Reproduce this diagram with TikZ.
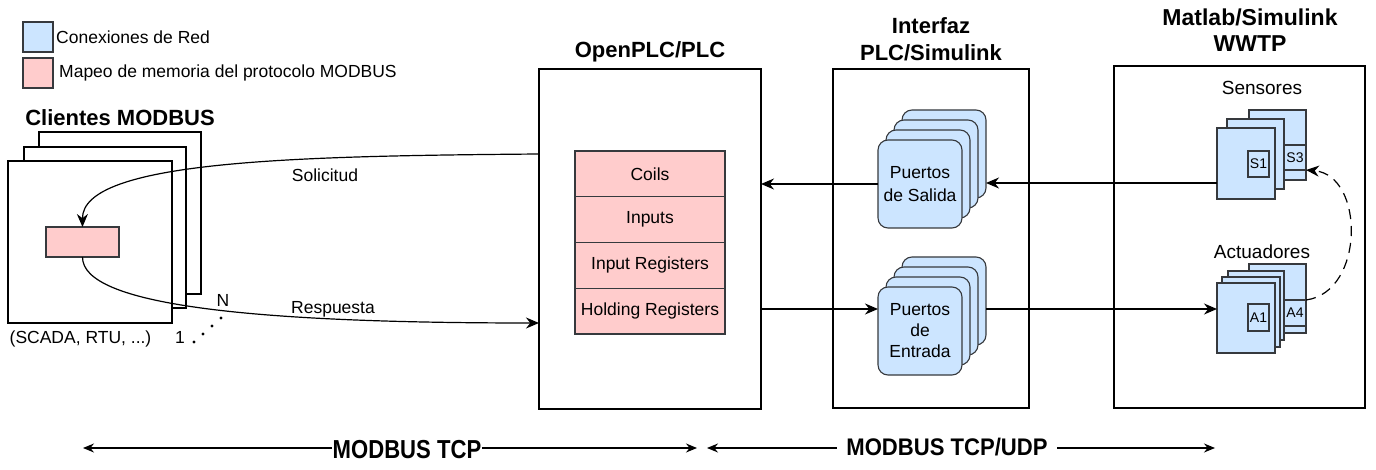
\documentclass[tikz,border=0pt]{standalone}
\usepackage{fontspec}
\setmainfont{Liberation Sans}
\newfontfamily\condA[FakeStretch=0.85]{Liberation Sans Bold}
\newfontfamily\condB[FakeStretch=0.92]{Liberation Sans Bold}
\usetikzlibrary{calc,arrows.meta,positioning}
\definecolor{blu}{HTML}{CCE5FF}
\definecolor{pnk}{HTML}{FFCCCC}
\definecolor{edg}{HTML}{36393D}
\begin{document}
\begin{tikzpicture}[x=1pt,y=-1pt,
  frame/.style={draw=black, line width=1.3pt, fill=white, rectangle, inner sep=0pt, outer sep=0pt, anchor=north west},
  blubox/.style={draw=edg, line width=1.1pt, fill=blu, rectangle, inner sep=0pt, outer sep=0pt, anchor=north west},
  pnkbox/.style={draw=edg, line width=1.1pt, fill=pnk, rectangle, inner sep=0pt, outer sep=0pt, anchor=north west},
  port/.style={blubox, rounded corners=10pt, minimum width=84pt, minimum height=88pt, align=center},
  reg/.style={pnkbox, minimum width=150pt, minimum height=45.75pt, font=\fontsize{17.5}{21}\selectfont},
  lbl/.style={font=\fontsize{17.5}{21}\selectfont, inner sep=0pt},
  sml/.style={font=\fontsize{14}{16}\selectfont, inner sep=0pt},
  ttl/.style={font=\bfseries\fontsize{22}{27}\selectfont, align=center, inner sep=0pt},
  arr/.style={line width=1.2pt, -{Stealth[length=13pt,width=11pt]}},
  darr/.style={line width=1.3pt, {Stealth[length=11pt,width=9pt]}-{Stealth[length=11pt,width=9pt]}}
]
\useasboundingbox (0,0) rectangle (1376,470);

% legend
\node[blubox, minimum width=30pt, minimum height=30pt] (lg1) at (23,22) {};
\node[lbl, anchor=west] (lg1t) at (56,37) {Conexiones de Red};
\node[pnkbox, minimum width=30pt, minimum height=30pt] (lg2) at (23,58) {};
\node[lbl, anchor=west] (lg2t) at (59,73) {Mapeo de memoria del protocolo MODBUS};

% clients
\node[ttl] (clt) at (120,118) {Clientes MODBUS};
\node[frame, minimum width=162pt, minimum height=162pt] (c3) at (39,132) {};
\node[frame, minimum width=162pt, minimum height=161pt] (c2) at (24,147) {};
\node[frame, minimum width=164pt, minimum height=162pt] (c1) at (8,161) {};
\node[pnkbox, minimum width=73pt, minimum height=30pt] (mem) at (46,227) {};
\node[lbl] (scada) at (80.5,339) {(SCADA, RTU, ...)};
\node[lbl] (nn) at (223,300) {N};
\node[lbl] (one) at (180,337) {1};
\fill (194,342) circle (1.6pt);
\fill (203,334) circle (1.6pt);
\fill (212,326) circle (1.6pt);
\fill (221,318) circle (1.6pt);

% PLC
\node[ttl] (plct) at (650,52) {OpenPLC/PLC};
\node[frame, minimum width=222pt, minimum height=340pt] (plc) at (539,69) {};
\node[reg] (coils) at (575,151) {Coils};
\node[reg, below=0pt of coils] (inputs) {Inputs};
\node[reg, below=0pt of inputs] (ireg) {Input Registers};
\node[reg, below=0pt of ireg] (hreg) {Holding Registers};

% Interface
\node[ttl] (ifzt) at (931,39) {Interfaz\\PLC/Simulink};
\node[frame, minimum width=196pt, minimum height=339pt] (ifz) at (833,69) {};
\node[port] (sal4) at (902,110) {};
\node[port] (sal3) at (894,120) {};
\node[port] (sal2) at (886,130) {};
\node[port, font=\fontsize{17.5}{23}\selectfont] (sal1) at (878,140) {Puertos\\de Salida};
\node[port] (ent4) at (902,257) {};
\node[port] (ent3) at (894,267) {};
\node[port] (ent2) at (886,277) {};
\node[port, font=\fontsize{17.5}{21}\selectfont] (ent1) at (878,287) {Puertos\\de\\Entrada};

% Matlab
\node[ttl, font=\bfseries\fontsize{23}{26.5}\selectfont] (matt) at (1250,30) {Matlab/Simulink\\WWTP};
\node[frame, minimum width=251pt, minimum height=342pt] (mat) at (1114,66) {};
\node[lbl, font=\fontsize{19}{22}\selectfont] (sens) at (1262,88) {Sensores};
\node[lbl, font=\fontsize{19}{22}\selectfont] (acts) at (1262,252) {Actuadores};

\node[blubox, minimum width=57pt, minimum height=70pt] (sen3) at (1249,110) {};
\node[blubox, minimum width=36pt, minimum height=25pt] (s3) at (1270,145) {};
\node[sml] (s3t) at (1295,158) {S3};
\node[blubox, minimum width=57pt, minimum height=70pt] (sen2) at (1227,119) {};
\node[blubox, minimum width=58pt, minimum height=71pt] (sen1) at (1217,128) {};
\node[blubox, minimum width=21pt, minimum height=26pt, font=\fontsize{14}{16}\selectfont] (s1) at (1248,151) {S1};

\node[blubox, minimum width=57pt, minimum height=69pt] (act4) at (1249,264) {};
\node[blubox, minimum width=36pt, minimum height=26pt] (a4) at (1270,300) {};
\node[sml] (a4t) at (1295,313) {A4};
\node[blubox, minimum width=56pt, minimum height=69pt] (act3) at (1228,271) {};
\node[blubox, minimum width=58pt, minimum height=70pt] (act2) at (1222,277) {};
\node[blubox, minimum width=58pt, minimum height=70pt] (act1) at (1217,283) {};
\node[blubox, minimum width=21pt, minimum height=27pt, font=\fontsize{14}{16}\selectfont] (a1) at (1248,304) {A1};

% connectors
\coordinate (sq) at ($(plc.north west)+(0,85)$);
\draw[arr] (sq) .. controls (300,156) and (82,160) .. (mem.north);
\coordinate (rp) at ($(plc.north west)+(0,254)$);
\draw[arr] (mem.south) .. controls (82,305) and (250,323) .. (rp);
\node[lbl] (solt) at (325,175) {Solicitud};
\node[lbl] (respt) at (333,309) {Respuesta};

\coordinate (sin) at ($(sen1.north west)+(0,55)$);
\draw[arr] (sin) -- (sal4.east |- sin);
\draw[arr] (sal1.west) -- (plc.east |- sal1.west);
\coordinate (ein) at ($(ent1.north west)+(0,22)$);
\draw[arr] (plc.east |- ein) -- (ein);
\coordinate (ain) at ($(act1.north west)+(0,26)$);
\draw[arr] (ent4.east |- ain) -- (ain);
\draw[arr, dash pattern=on 10pt off 7pt] (a4.north east) .. controls (1365,292) and (1365,175) .. (s3.south east);

% bottom
\coordinate (b1l) at (83,448);
\coordinate (b1r) at (697,448);
\coordinate (b2l) at (707,448);
\coordinate (b2r) at (1215,448);
\draw[darr] (b1l) -- (b1r);
\draw[darr] (b2l) -- (b2r);
\node[font=\condA\fontsize{26}{30}\selectfont, fill=white, inner xsep=1pt, inner ysep=2pt] (tcp) at (407,450) {MODBUS TCP};
\node[font=\condB\fontsize{24}{28}\selectfont, fill=white, inner xsep=9pt, inner ysep=2pt] (udp) at (947,447) {MODBUS TCP/UDP};
\end{tikzpicture}
\end{document}
